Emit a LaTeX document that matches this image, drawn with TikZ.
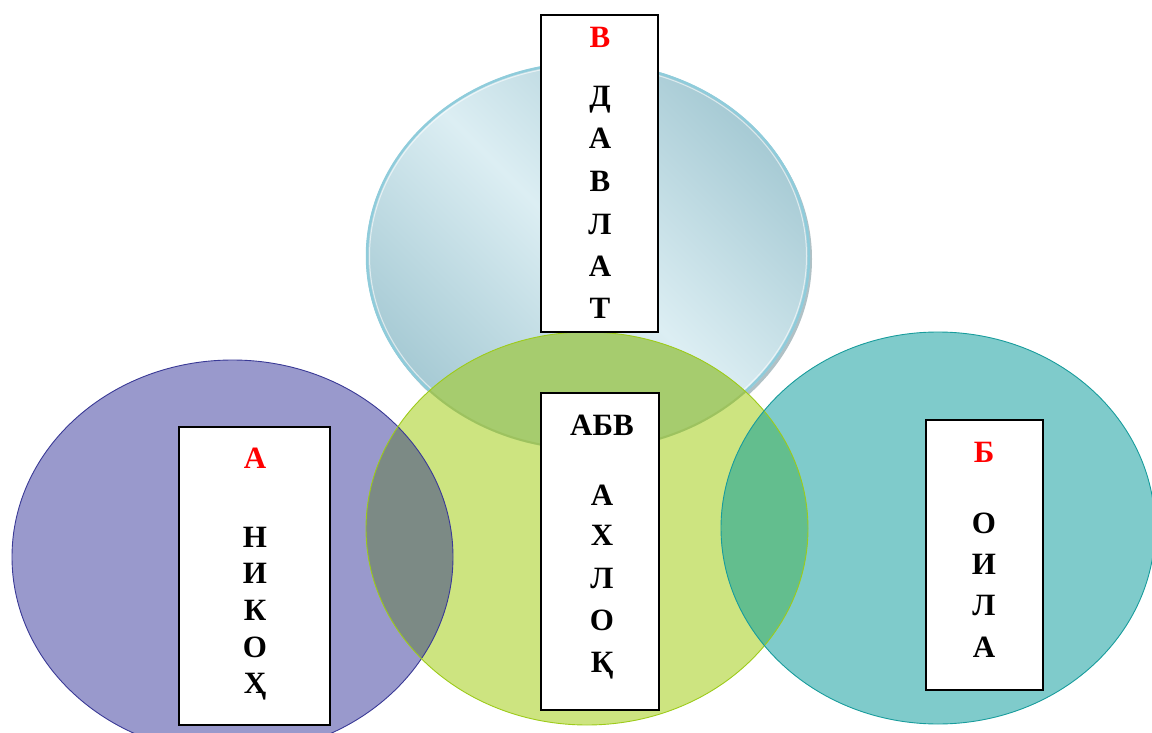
\documentclass[tikz,border=0pt]{standalone}
\usepackage{fontspec}
\setmainfont{Liberation Serif}
\definecolor{purp}{HTML}{9999CC}
\definecolor{purpEdge}{HTML}{3A3A96}
\definecolor{grn}{HTML}{CDE480}
\definecolor{grnEdge}{HTML}{9DCB1A}
\definecolor{tealc}{HTML}{7FCBCB}
\definecolor{tealEdge}{HTML}{189C9C}
\definecolor{purpgrn}{HTML}{7C8A85}
\definecolor{tealgrn}{HTML}{63BE8E}
\definecolor{grnblue}{HTML}{A6CC6E}
\definecolor{blueLight}{HTML}{DCEEF3}
\definecolor{blueDark}{HTML}{A6CAD4}
\definecolor{blueEdge}{HTML}{8FCCDB}
\definecolor{blueShadow}{HTML}{8FA6AD}
\begin{document}
\begin{tikzpicture}[x=1pt,y=-1pt,
  boxst/.style={draw=black,fill=white,line width=1.5pt,inner sep=0pt},
  lt/.style={font=\fontsize{31}{36}\selectfont\bfseries,inner sep=0pt,anchor=base},
  redlt/.style={lt,text=red}]
\useasboundingbox (0,0) rectangle (1152,733);
\clip (0,0) rectangle (1152,733);
% top (blue glass) ellipse
\fill[blueShadow,opacity=0.7] (590,259) ellipse [x radius=222pt,y radius=194pt];
\shade[left color=blueDark,right color=blueDark,middle color=blueLight,shading angle=-45]
  (588,256) ellipse [x radius=222pt,y radius=194pt];
\draw[blueEdge,line width=2.5pt] (588,256) ellipse [x radius=221pt,y radius=193pt];
\draw[white,opacity=0.6,line width=1pt] (588,256) ellipse [x radius=218.5pt,y radius=190.5pt];
% left (purple) ellipse
\fill[purp] (232.5,557) ellipse [x radius=220.5pt,y radius=197pt];
% middle (green) ellipse
\fill[grn] (587,528.5) ellipse [x radius=221pt,y radius=196.5pt];
\begin{scope}
  \clip (588,256) ellipse [x radius=222pt,y radius=194pt];
  \fill[grnblue] (587,528.5) ellipse [x radius=221pt,y radius=196.5pt];
\end{scope}
\begin{scope}
  \clip (232.5,557) ellipse [x radius=220.5pt,y radius=197pt];
  \fill[purpgrn] (587,528.5) ellipse [x radius=221pt,y radius=196.5pt];
\end{scope}
% right (teal) ellipse
\fill[tealc] (938,528) ellipse [x radius=217pt,y radius=196pt];
\begin{scope}
  \clip (587,528.5) ellipse [x radius=221pt,y radius=196.5pt];
  \fill[tealgrn] (938,528) ellipse [x radius=217pt,y radius=196pt];
\end{scope}
% edges
\begin{scope}
  \clip (587,528.5) ellipse [x radius=221pt,y radius=196.5pt];
  \draw[grnEdge!60!blueShadow,line width=2pt,opacity=0.6] (588,256) ellipse [x radius=221pt,y radius=193pt];
\end{scope}
\draw[purpEdge,line width=0.9pt] (232.5,557) ellipse [x radius=220.5pt,y radius=197pt];
\draw[grnEdge,line width=0.9pt] (587,528.5) ellipse [x radius=221pt,y radius=196.5pt];
\draw[tealEdge,line width=0.9pt] (938,528) ellipse [x radius=217pt,y radius=196pt];
% boxes
\node[boxst,minimum width=117pt,minimum height=317pt] (bv) at (599.5,173.5) {};
\node[boxst,minimum width=151pt,minimum height=298pt] (ba) at (254.5,576) {};
\node[boxst,minimum width=118pt,minimum height=317pt] (babv) at (600,551.5) {};
\node[boxst,minimum width=117pt,minimum height=270pt] (bb) at (984.5,555) {};
% top box text
\node[redlt] (v0) at (600,48) {В};
\foreach \ch/\yy [count=\i] in {Д/107,А/149,В/192,Л/234,А/276,Т/318}
  \node[lt] (v\i) at (600,\yy) {\ch};
% left box text
\node[redlt] (a0) at (255,468) {А};
\foreach \ch/\yy [count=\i] in {Н/547,И/583,К/620,О/657,Ҳ/693}
  \node[lt] (a\i) at (255,\yy) {\ch};
% middle box text
\node[lt] (m0) at (602,435) {АБВ};
\foreach \ch/\yy [count=\i] in {А/505,Х/545,Л/588,О/630,Қ/672}
  \node[lt] (m\i) at (602,\yy) {\ch};
% right box text
\node[redlt] (b0) at (984,462) {Б};
\foreach \ch/\yy [count=\i] in {О/533,И/574,Л/615,А/657}
  \node[lt] (b\i) at (984,\yy) {\ch};
\end{tikzpicture}
\end{document}
